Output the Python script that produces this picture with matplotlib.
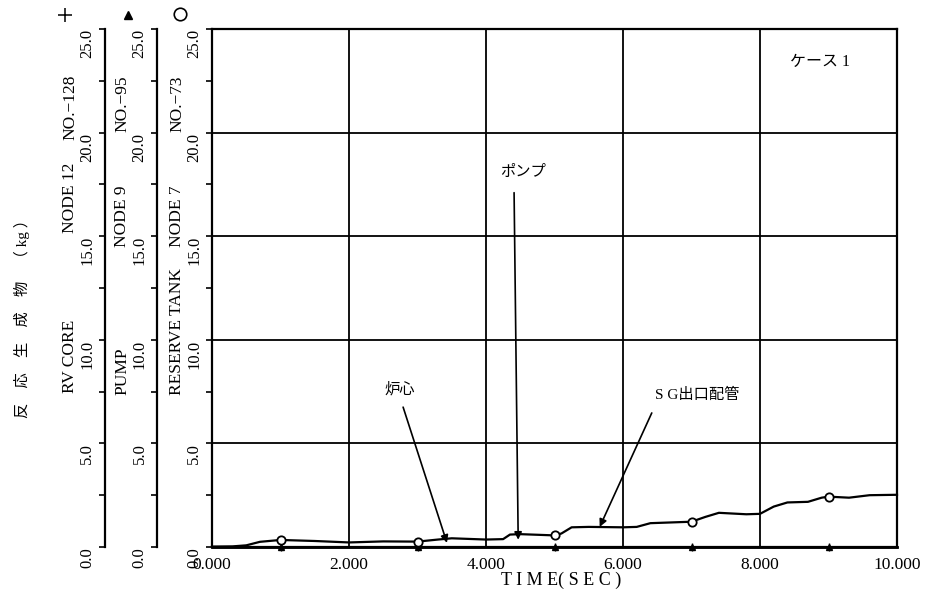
import numpy as np
import matplotlib
matplotlib.use("Agg")
from matplotlib import pyplot as plt
from matplotlib.ticker import MultipleLocator

plt.rcParams['font.family'] = ['Liberation Serif', 'Noto Sans CJK JP']
plt.rcParams['axes.unicode_minus'] = True

# reserve tank (node 7, NO.-73) curve
tank_t = [0.0, 0.3, 0.5, 0.7, 1.0, 1.5, 2.0, 2.5, 3.0, 3.3, 3.5, 4.0, 4.25, 4.35, 4.5,
          5.0, 5.1, 5.25, 5.5, 6.0, 6.2, 6.4, 7.0, 7.2, 7.4, 7.8, 8.0, 8.2, 8.4, 8.7,
          8.9, 9.0, 9.3, 9.6, 10.0]
tank_v = [0.02, 0.03, 0.08, 0.25, 0.34, 0.29, 0.22, 0.27, 0.26, 0.36, 0.42, 0.36, 0.38, 0.60, 0.62,
          0.56, 0.65, 0.95, 0.97, 0.95, 0.97, 1.15, 1.22, 1.45, 1.65, 1.58, 1.60, 1.95, 2.15, 2.18,
          2.38, 2.43, 2.38, 2.50, 2.52]
# RV core (node 12) and pump (node 9) stay on the baseline
core_t = [0, 1, 3, 5, 7, 9, 10]
core_v = [0, 0, 0, 0, 0, 0, 0]
pump_t = [0, 1, 3, 5, 7, 9, 10]
pump_v = [0, 0, 0, 0, 0, 0, 0]
marker_times = [1, 3, 5, 7, 9]

x_ticks = [0, 2, 4, 6, 8, 10]
x_labels = ['0.000', '2.000', '4.000', '6.000', '8.000', '10.000']
y_ticks = [0, 5, 10, 15, 20, 25]
y_labels = ['0.0', '5.0', '10.0', '15.0', '20.0', '25.0']

fig = plt.figure(figsize=(9.3, 6.01), dpi=100)
ax = fig.add_axes([212 / 930, 54 / 601, 685 / 930, 518 / 601])
ax.set_xlim(0, 10)
ax.set_ylim(0, 25)

# curves
t = np.array(tank_t)
tank_idx = [int(np.argmin(np.abs(t - m))) for m in marker_times]
ax.plot(tank_t, tank_v, color='black', lw=1.6, marker='o', ms=6, mfc='white',
        mec='black', mew=1.3, markevery=tank_idx, clip_on=False, zorder=4)
core_idx = [i for i, v in enumerate(core_t) if v in marker_times]
ax.plot(core_t, core_v, color='black', lw=1.8, marker='+', ms=6, markevery=core_idx,
        clip_on=False, zorder=3)
ax.plot(pump_t, pump_v, color='black', lw=1.8, marker='^', ms=5, markevery=core_idx,
        clip_on=False, zorder=3)

# grid and frame
ax.set_xticks(x_ticks)
ax.set_xticklabels(x_labels, fontsize=12.5)
ax.set_yticks(y_ticks)
ax.set_yticklabels(y_labels, fontsize=12)
ax.yaxis.set_minor_locator(MultipleLocator(2.5))
ax.grid(True, color='black', lw=1.3)
for s in ax.spines.values():
    s.set_linewidth(1.6)
ax.tick_params(axis='x', length=0, pad=7)
ax.tick_params(axis='y', which='both', length=4, width=1.2, pad=3)
for lab in ax.get_yticklabels():
    lab.set_rotation(90)
    lab.set_va('top')

# extra left axes (same 0-25 scale)
for pos in [-0.156, -0.080]:
    sec = ax.secondary_yaxis(pos)
    sec.set_yticks(y_ticks)
    sec.set_yticklabels(y_labels, fontsize=12)
    sec.yaxis.set_minor_locator(MultipleLocator(2.5))
    sec.spines['left'].set_linewidth(1.6)
    sec.tick_params(axis='y', which='both', length=4, width=1.2, pad=3)
    for lab in sec.get_yticklabels():
        lab.set_rotation(90)
        lab.set_va('top')

# axis titles with their curve symbols on top
axis_text = [
    (-0.207, [('RV CORE', 0.297), ('NODE 12', 0.606), ('NO.−128', 0.786)]),
    (-0.131, [('PUMP', 0.293), ('NODE 9', 0.579), ('NO.−95', 0.801)]),
    (-0.051, [('RESERVE TANK', 0.293), ('NODE 7', 0.579), ('NO.−73', 0.801)]),
]
for xpos, parts in axis_text:
    for s, yb in parts:
        ax.text(xpos, yb, s, transform=ax.transAxes, rotation=90, ha='center',
                va='bottom', fontsize=12.5)
ax.plot([-0.2146], [1.0275], marker='+', color='black', ms=10, mew=1.1,
        transform=ax.transAxes, clip_on=False)
ax.plot([-0.1226], [1.0275], marker='^', color='black', ms=6,
        transform=ax.transAxes, clip_on=False)
ax.plot([-0.0467], [1.0295], marker='o', color='black', mfc='white', ms=9, mew=1.2,
        transform=ax.transAxes, clip_on=False)

ax.text(-0.277, 0.249, '反　応　生　成　物　（ kg ）', transform=ax.transAxes, rotation=90,
        ha='center', va='bottom', fontsize=11)
ax.text(0.51, -0.065, 'T I M E( S E C )', transform=ax.transAxes, ha='center',
        va='center', fontsize=13)

# annotations
cjk = ['Liberation Serif', 'Noto Sans CJK JP']
arrow = dict(arrowstyle='-|>', color='black', lw=1.2, mutation_scale=11,
             shrinkA=0, shrinkB=0)
ax.text(2.74, 7.6, '炉心', ha='center', va='center', fontsize=11, family=cjk)
ax.annotate('', xy=(3.43, 0.2), xytext=(2.79, 6.75), arrowprops=arrow)
ax.text(4.54, 18.1, 'ポンプ', ha='center', va='center', fontsize=11, family=cjk)
ax.annotate('', xy=(4.47, 0.35), xytext=(4.41, 17.1), arrowprops=arrow)
ax.text(7.08, 7.34, 'S G出口配管', ha='center', va='center', fontsize=11, family=cjk)
ax.annotate('', xy=(5.66, 0.97), xytext=(6.42, 6.47), arrowprops=arrow)
ax.text(8.88, 23.4, 'ケース 1', ha='center', va='center', fontsize=11.5, family=cjk)

fig.savefig('out.png', dpi=100)
